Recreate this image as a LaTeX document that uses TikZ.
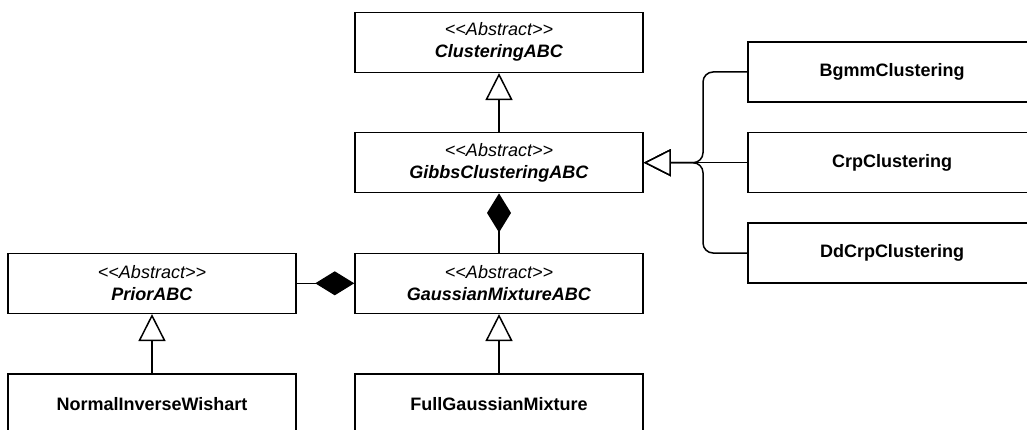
\documentclass[tikz,border=0pt]{standalone}
\usepackage{fontspec}
\setmainfont{Liberation Sans}
\usetikzlibrary{arrows.meta}
\newcommand{\abs}{\textit{<\kern0pt<Abstract>\kern0pt>}}
\begin{document}
\begin{tikzpicture}[x=1pt,y=-1pt,
  cls/.style={draw=black, line width=1.5pt, fill=white, minimum width=288pt,
    minimum height=60pt, inner sep=0pt, align=center,
    font=\fontsize{18}{22}\selectfont},
  conn/.style={draw=black, line width=1.5pt},
  inherit/.style={conn, -{Triangle[length=27pt, width=27pt, fill=white]}},
  compose/.style={conn, -{Diamond[length=39pt, width=24pt, fill=black]}},
  branch/.style={inherit, rounded corners=10pt}
]
\useasboundingbox (0,0) rectangle (1027,430);
\fill[white] (0,0) rectangle (1027,430);
\clip (0,0) rectangle (1027,430);

\node[cls] (clus)  at (499,42.3)  {\abs\\\textbf{\textit{ClusteringABC}}};
\node[cls] (gibbs) at (499,162.7) {\abs\\\textbf{\textit{GibbsClusteringABC}}};
\node[cls] (gmm)   at (499,283.3) {\abs\\\textbf{\textit{GaussianMixtureABC}}};
\node[cls] (fgm)   at (499,404)   {\textbf{FullGaussianMixture}};
\node[cls] (prior) at (152,283.3) {\abs\\\textbf{\textit{PriorABC}}};
\node[cls] (niw)   at (152,404)   {\textbf{NormalInverseWishart}};
\node[cls] (bgmm)  at (892,72)    {\textbf{BgmmClustering}};
\node[cls] (crp)   at (892,162.7) {\textbf{CrpClustering}};
\node[cls] (ddcrp) at (892,253)   {\textbf{DdCrpClustering}};

\coordinate (jn) at (703,162.7);

\draw[inherit] (gibbs.north) -- (clus.south);
\draw[compose] (gmm.north) -- (gibbs.south);
\draw[compose] (prior.east) -- (gmm.west);
\draw[inherit] (niw.north) -- (prior.south);
\draw[inherit] (fgm.north) -- (gmm.south);
\draw[branch] (bgmm.west) -| (jn) -- (gibbs.east);
\draw[inherit] (crp.west) -- (gibbs.east);
\draw[branch] (ddcrp.west) -| (jn) -- (gibbs.east);
\end{tikzpicture}
\end{document}
